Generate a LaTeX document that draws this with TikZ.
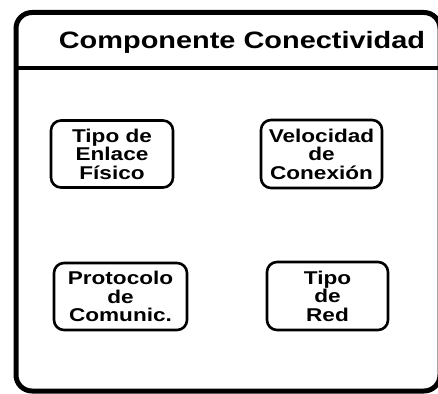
\documentclass[tikz,border=0pt]{standalone}
\usepackage{fontspec}
\setmainfont{Liberation Sans}[FakeStretch=1.22]
\begin{document}
\begin{tikzpicture}[x=1pt,y=-1pt,
  frame/.style={draw=black,line width=5pt,rounded corners=16pt},
  divider/.style={draw=black,line width=4pt},
  titletext/.style={font=\fontsize{23.7}{28}\selectfont\bfseries,anchor=base},
  stepbox/.style={draw=black,line width=2.6pt,rounded corners=10pt,align=center,
    inner sep=0pt,font=\fontsize{18.5}{18.5}\selectfont\bfseries}]
\useasboundingbox (0,0) rectangle (438,393);
\draw[frame] (16,12.5) rectangle (440,391);
\coordinate (dl) at (16,68);
\coordinate (dr) at (440,68);
\draw[divider] (dl) -- (dr);
\node[titletext] (title) at (242,49) {Componente Conectividad};
\node[stepbox,minimum width=122pt,minimum height=67pt] (b1) at (112,154) {Tipo de\\Enlace\\Físico};
\node[stepbox,minimum width=121pt,minimum height=68pt] (b2) at (321.5,154) {Velocidad\\de\\Conexión};
\node[stepbox,minimum width=133pt,minimum height=67pt] (b3) at (120.5,296.5) {Protocolo\\de\\Comunic.};
\node[stepbox,minimum width=121pt,minimum height=68pt] (b4) at (327.5,296) {Tipo\\de\\Red};
\end{tikzpicture}
\end{document}
